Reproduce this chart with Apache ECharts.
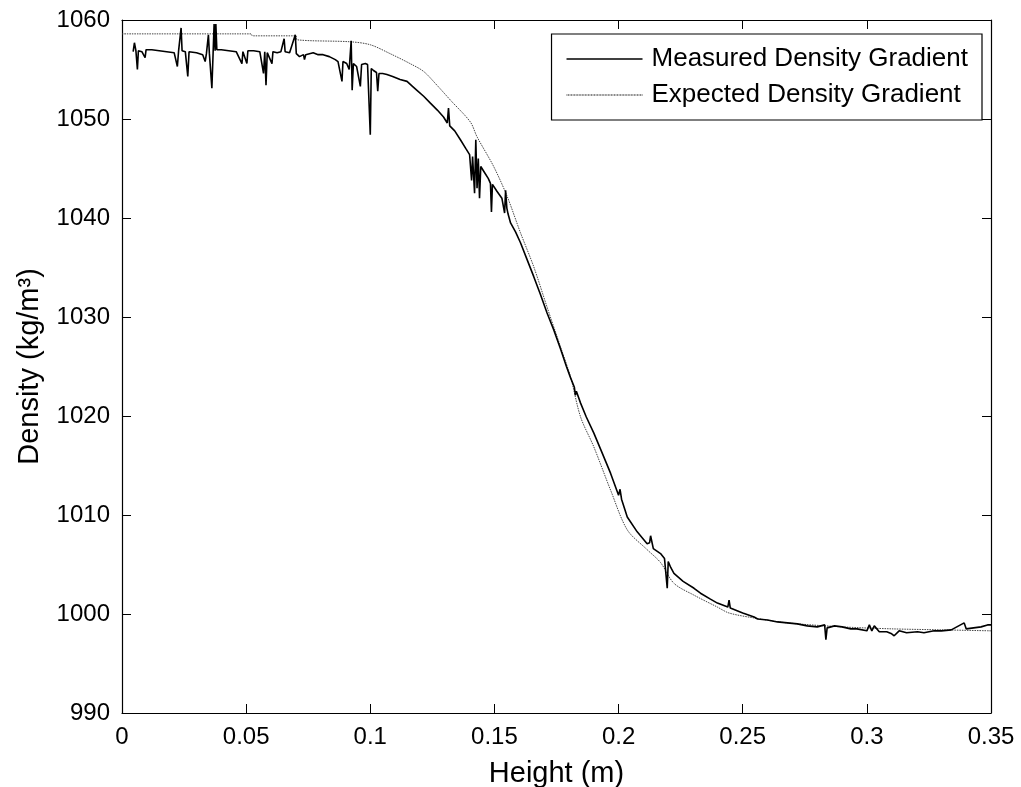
<!DOCTYPE html>
<html>
<head>
<meta charset="utf-8">
<script src="https://cdn.jsdelivr.net/npm/echarts@6/dist/echarts.min.js"></script>
<style>
html,body{margin:0;padding:0;background:#fff;}
#chart{width:1021px;height:787px;}
</style>
</head>
<body>
<div id="chart"></div>
<script>
// ---- data ----
const xTickLabels = ["0", "0.05", "0.1", "0.15", "0.2", "0.25", "0.3", "0.35"];
const yTickLabels = ["990", "1000", "1010", "1020", "1030", "1040", "1050", "1060"];

const measuredX = [
0.0045,0.0050,0.0056,0.0062,0.0066,0.0080,0.0093,0.0097,0.012,0.015,0.018,0.021,0.0223,0.0228,0.0238,0.0242,0.0255,0.0265,0.0270,0.030,
0.0325,0.0335,0.0340,0.0348,0.0352,0.0362,0.0367,0.0371,0.0375,0.0378,0.0382,0.040,0.043,0.046,0.0483,0.0487,0.0503,0.0507,0.053,0.0555,
0.0570,0.0575,0.0580,0.0585,0.0604,0.0608,0.0625,0.0640,0.0653,0.0657,0.0675,0.0698,0.0702,0.0715,0.0731,0.0735,0.0740,0.077,0.079,0.081,
0.0835,0.0859,0.0870,0.0886,0.0890,0.0905,0.0915,0.0923,0.0927,0.0932,0.0945,0.0960,0.0965,0.0980,0.0989,0.0995,0.1000,0.1004,0.1013,0.1025,
0.1030,0.1035,0.1050,0.1067,0.109,0.112,0.1148,0.117,0.1188,0.1215,0.1242,0.127,0.1295,0.1310,0.1315,0.1320,0.1340,0.1363,0.1385,0.1400,
0.1408,0.1412,0.1420,0.1425,0.1430,0.1435,0.1440,0.1445,0.1460,0.1475,0.1484,0.1488,0.1492,0.1510,0.1530,0.1537,0.1541,0.1545,0.1550,0.1555,
0.1565,0.1585,0.1605,0.163,0.1658,0.1685,0.1712,0.1739,0.1766,0.1790,0.1806,0.1822,0.1826,0.1830,0.1847,0.1870,0.1900,0.1935,0.1968,0.2000,0.2006,0.2012,0.2035,0.2075,
0.2115,0.2125,0.2129,0.2140,0.2169,0.2185,0.2196,0.2200,0.2210,0.2223,0.2260,0.2304,0.2330,0.2370,0.2398,0.2440,0.2445,0.2450,0.2500,0.2546,0.2560,0.2600,
0.2640,0.2680,0.2720,0.2760,0.2800,0.2830,0.2835,0.2840,0.2870,0.2900,0.2935,0.2960,0.3000,0.3010,0.3020,0.3030,0.3050,0.3080,0.3100,0.3110,
0.3130,0.3160,0.3204,0.3230,0.3271,0.3300,0.3340,0.3392,0.3400,0.3430,0.3460,0.3486,0.3500
];
const measuredY = [
1056.8,1057.7,1056.9,1055.0,1056.9,1056.8,1056.2,1057.0,1057.0,1056.9,1056.8,1056.7,1055.3,1056.9,1059.2,1056.9,1056.8,1054.3,1056.8,1056.7,
1056.5,1055.8,1056.6,1058.5,1056.6,1053.1,1056.7,1059.6,1056.9,1059.6,1057.0,1057.0,1056.9,1056.8,1055.6,1056.8,1055.6,1056.9,1056.9,1056.8,
1054.6,1056.8,1053.4,1056.7,1055.6,1056.8,1056.7,1056.8,1058.1,1056.8,1056.7,1058.5,1056.6,1056.3,1056.5,1056.0,1056.5,1056.7,1056.5,1056.5,
1056.3,1056.0,1055.8,1053.8,1055.8,1055.6,1055.0,1057.9,1052.9,1055.6,1055.3,1053.3,1055.5,1055.6,1055.5,1055.7,1048.4,1055.1,1054.9,1054.7,
1052.8,1054.6,1054.6,1054.5,1054.3,1054.0,1053.8,1053.3,1052.9,1052.3,1051.6,1050.9,1050.2,1049.6,1051.1,1049.3,1048.8,1047.9,1047.0,1046.4,
1043.8,1046.2,1042.5,1047.9,1043.0,1046.0,1042.0,1045.2,1044.6,1044.0,1043.5,1040.6,1043.4,1042.7,1042.0,1041.8,1040.5,1042.8,1041.0,1040.4,
1039.5,1038.6,1037.5,1035.9,1034.1,1032.3,1030.4,1028.7,1026.8,1025.0,1023.9,1022.9,1022.1,1022.5,1021.3,1019.9,1018.3,1016.2,1014.2,1012.0,1012.6,1011.6,1009.8,1008.3,
1007.1,1007.2,1007.9,1006.6,1006.1,1005.6,1002.6,1005.3,1004.7,1004.1,1003.3,1002.6,1002.1,1001.5,1001.1,1000.7,1001.4,1000.6,1000.1,999.7,999.5,999.4,
999.2,999.1,999.0,998.8,998.7,998.9,997.4,998.6,998.8,998.7,998.5,998.5,998.3,998.9,998.3,998.8,998.2,998.2,998.0,997.8,
998.3,998.1,998.2,998.1,998.3,998.3,998.4,999.1,998.5,998.6,998.7,998.9,998.9
];

const expectedX = [
0,0.052,0.0525,0.070,0.0705,0.0919,0.100,0.108,0.116,0.1215,0.1269,0.1323,0.1403,0.143,0.1497,0.1551,0.1605,0.1658,0.1712,0.1766,
0.1806,0.1847,0.1900,0.1968,0.2035,0.2115,0.2169,0.2223,0.2304,0.2398,0.2445,0.2546,0.268,0.29,0.31,0.33,0.35
];
const expectedY = [
1058.6,1058.6,1058.4,1058.4,1058.0,1057.8,1057.5,1056.6,1055.6,1054.8,1053.4,1051.9,1049.7,1048.2,1045.2,1042.2,1038.5,1035.1,1031.0,1027.0,
1024.0,1019.9,1016.9,1012.5,1008.5,1006.5,1005.2,1003.1,1001.9,1000.7,1000.1,999.6,999.1,998.7,998.5,998.4,998.3
];

const seriesNames = ["Measured Density Gradient", "Expected Density Gradient"];
// --------------------------------------

const measured = measuredX.map((x, i) => [x, measuredY[i]]);
const expected = expectedX.map((x, i) => [x, expectedY[i]]);

// legend icons: a solid stroke and a dotted stroke
const solidIcon = 'path://M0,0H100V2H0Z';
let dotted = '';
for (let k = 0; k < 50; k++) { dotted += 'M' + (k * 2) + ',0h1.2v2h-1.2z'; }
const dottedIcon = 'path://' + dotted;

const FONT = '"Liberation Sans", Arial, Helvetica, sans-serif';
const chart = echarts.init(document.getElementById('chart'), null, {renderer: 'canvas'});

const xFmt = v => { const idx = Math.round(v / 0.05); return xTickLabels[idx] !== undefined ? xTickLabels[idx] : String(v); };
const yFmt = v => { const idx = Math.round((v - 990) / 10); return yTickLabels[idx] !== undefined ? yTickLabels[idx] : String(v); };

const axisLine = {show: true, onZero: false, lineStyle: {color: '#000', width: 1.2}};
const axisTick = {show: true, inside: true, length: 9, lineStyle: {color: '#000', width: 1}};

chart.setOption({
  animation: false,
  backgroundColor: '#fff',
  grid: {left: 122, right: 30, top: 20, bottom: 74, containLabel: false, outerBoundsMode: 'none'},
  legend: {
    show: true,
    data: [
      {name: seriesNames[0], icon: solidIcon, itemStyle: {color: '#000'}},
      {name: seriesNames[1], icon: dottedIcon, itemStyle: {color: '#555'}}
    ],
    orient: 'vertical',
    right: 39,
    top: 34,
    padding: [12, 14, 12, 15],
    itemGap: 10,
    itemWidth: 76,
    itemHeight: 1.6,
    borderColor: '#000',
    borderWidth: 1.2,
    backgroundColor: '#fff',
    textStyle: {fontFamily: FONT, fontSize: 26, color: '#000', padding: [0, 0, 0, 4]}
  },
  xAxis: [{
    type: 'value', min: 0, max: 0.35, interval: 0.05, position: 'bottom',
    axisLine: axisLine, axisTick: axisTick, splitLine: {show: false},
    axisLabel: {fontFamily: FONT, fontSize: 24, color: '#000', margin: 12, formatter: xFmt},
    name: 'Height (m)', nameLocation: 'middle', nameGap: 46,
    nameTextStyle: {fontFamily: FONT, fontSize: 29, color: '#000'}
  }, {
    type: 'value', min: 0, max: 0.35, interval: 0.05, position: 'top',
    axisLine: axisLine, axisTick: axisTick, splitLine: {show: false},
    axisLabel: {show: false}
  }],
  yAxis: [{
    type: 'value', min: 990, max: 1060, interval: 10, position: 'left',
    axisLine: axisLine, axisTick: axisTick, splitLine: {show: false},
    axisLabel: {fontFamily: FONT, fontSize: 24, color: '#000', margin: 12, formatter: yFmt},
    name: 'Density (kg/m³)', nameLocation: 'middle', nameGap: 78, nameRotate: 90,
    nameTextStyle: {fontFamily: FONT, fontSize: 29, color: '#000'}
  }, {
    type: 'value', min: 990, max: 1060, interval: 10, position: 'right',
    axisLine: axisLine, axisTick: axisTick, splitLine: {show: false},
    axisLabel: {show: false}
  }],
  series: [{
    name: seriesNames[0], type: 'line', data: measured, xAxisIndex: 0, yAxisIndex: 0,
    symbol: 'none', smooth: false,
    lineStyle: {color: '#000', width: 1.6},
    itemStyle: {color: '#000'}, z: 3
  }, {
    name: seriesNames[1], type: 'line', data: expected, xAxisIndex: 0, yAxisIndex: 0,
    symbol: 'none', smooth: 0.3,
    lineStyle: {color: '#444', width: 1, type: [1.5, 1]},
    itemStyle: {color: '#444'}, z: 2
  }]
});
</script>
</body>
</html>
